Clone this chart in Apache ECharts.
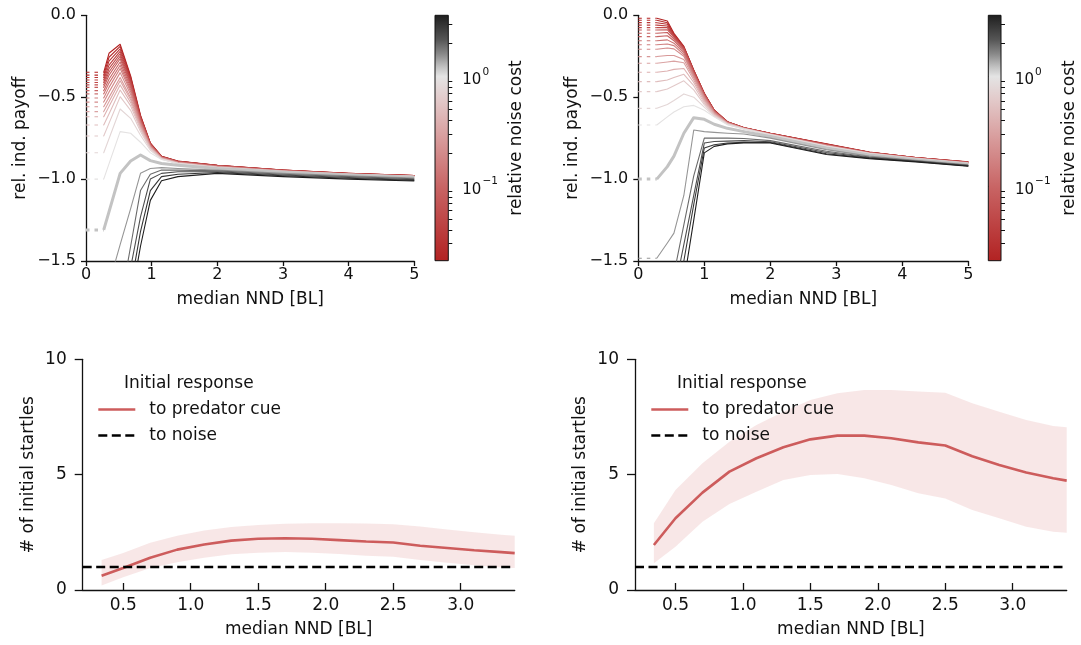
<!DOCTYPE html>
<html>
<head>
<meta charset="utf-8">
<script src="https://cdn.jsdelivr.net/npm/echarts@6/dist/echarts.min.js"></script>
<style>
  html, body { margin: 0; padding: 0; background: #fff; }
  #chart { width: 1081px; height: 645px; }
</style>
</head>
<body>
<div id="chart"></div>
<script>
// ---------------------------------------------------------------
// Relative noise cost of each curve in the two payoff panels
// ---------------------------------------------------------------
const noiseCost = [0.021, 0.026, 0.033, 0.041, 0.052, 0.065, 0.081, 0.10,
                   0.13, 0.16, 0.20, 0.25, 0.31, 0.39, 0.49, 0.61, 0.77,
                   0.96, 1.2, 1.5, 1.9, 2.3, 2.9, 3.6];
const highlightCost = 1.2;           // curve drawn as the thick grey reference
const costRange = [0.021, 3.6];      // colour-bar limits
const costMajorTicks = [0.1, 1];
const costMinorTicks = [0.03, 0.04, 0.05, 0.06, 0.07, 0.08, 0.09,
                        0.2, 0.3, 0.4, 0.5, 0.6, 0.7, 0.8, 0.9, 2, 3];

// median nearest-neighbour distance sampled in the left payoff panel
const nndPayoffLeft = [0.27, 0.35, 0.52, 0.68, 0.83, 0.98, 1.15, 1.4, 2.0, 3.0, 4.0, 5.0];
// relative individual payoff, one row per noise cost (left panel)
const payoffLeft = [
  [-0.348, -0.232, -0.177, -0.370, -0.610, -0.780, -0.860, -0.890, -0.915, -0.944, -0.965, -0.978],
  [-0.365, -0.256, -0.190, -0.378, -0.614, -0.781, -0.861, -0.891, -0.916, -0.945, -0.965, -0.978],
  [-0.380, -0.280, -0.205, -0.389, -0.619, -0.783, -0.862, -0.892, -0.917, -0.945, -0.966, -0.979],
  [-0.395, -0.304, -0.220, -0.398, -0.623, -0.785, -0.863, -0.892, -0.917, -0.946, -0.966, -0.979],
  [-0.410, -0.326, -0.235, -0.408, -0.628, -0.787, -0.864, -0.893, -0.918, -0.946, -0.967, -0.980],
  [-0.425, -0.346, -0.250, -0.418, -0.633, -0.788, -0.865, -0.894, -0.919, -0.947, -0.967, -0.980],
  [-0.440, -0.366, -0.265, -0.428, -0.637, -0.790, -0.866, -0.895, -0.920, -0.948, -0.968, -0.981],
  [-0.460, -0.390, -0.285, -0.441, -0.643, -0.792, -0.867, -0.896, -0.921, -0.949, -0.968, -0.981],
  [-0.480, -0.414, -0.305, -0.454, -0.650, -0.794, -0.868, -0.897, -0.922, -0.949, -0.969, -0.982],
  [-0.505, -0.440, -0.325, -0.467, -0.656, -0.797, -0.869, -0.898, -0.923, -0.950, -0.969, -0.982],
  [-0.530, -0.469, -0.350, -0.484, -0.664, -0.800, -0.870, -0.899, -0.924, -0.951, -0.970, -0.983],
  [-0.558, -0.501, -0.380, -0.503, -0.673, -0.803, -0.872, -0.900, -0.925, -0.951, -0.970, -0.983],
  [-0.588, -0.528, -0.400, -0.516, -0.679, -0.805, -0.873, -0.901, -0.926, -0.952, -0.970, -0.983],
  [-0.619, -0.557, -0.425, -0.533, -0.687, -0.808, -0.874, -0.902, -0.927, -0.953, -0.971, -0.984],
  [-0.670, -0.602, -0.456, -0.553, -0.696, -0.811, -0.876, -0.903, -0.928, -0.953, -0.971, -0.984],
  [-0.737, -0.660, -0.497, -0.580, -0.709, -0.816, -0.877, -0.904, -0.929, -0.954, -0.972, -0.985],
  [-0.839, -0.754, -0.572, -0.629, -0.732, -0.824, -0.878, -0.905, -0.930, -0.955, -0.972, -0.985],
  [-1.000, -0.907, -0.710, -0.720, -0.775, -0.840, -0.880, -0.905, -0.930, -0.955, -0.972, -0.985],
  [-1.310, -1.200, -0.965, -0.889, -0.853, -0.887, -0.905, -0.915, -0.935, -0.958, -0.975, -0.988],
  [-1.850, -1.640, -1.400, -1.180, -0.965, -0.935, -0.930, -0.935, -0.945, -0.965, -0.980, -0.993],
  [-2.300, -2.100, -1.770, -1.410, -1.070, -0.970, -0.945, -0.945, -0.950, -0.970, -0.985, -0.998],
  [-2.500, -2.300, -1.900, -1.540, -1.230, -1.000, -0.965, -0.955, -0.955, -0.975, -0.990, -1.003],
  [-2.600, -2.400, -2.000, -1.660, -1.320, -1.070, -0.985, -0.970, -0.960, -0.980, -0.995, -1.008],
  [-2.700, -2.500, -2.100, -1.750, -1.410, -1.130, -1.010, -0.985, -0.965, -0.985, -1.000, -1.012]
];

// median nearest-neighbour distance sampled in the right payoff panel
const nndPayoffRight = [0.28, 0.44, 0.54, 0.69, 0.84, 1.0, 1.15, 1.35, 1.6, 2.0, 2.85, 3.5, 4.2, 5.0];
// relative individual payoff, one row per noise cost (right panel)
const payoffRight = [
  [-0.018, -0.035, -0.110, -0.190, -0.334, -0.476, -0.578, -0.650, -0.685, -0.720, -0.785, -0.835, -0.868, -0.895],
  [-0.030, -0.045, -0.115, -0.192, -0.336, -0.477, -0.579, -0.650, -0.686, -0.721, -0.786, -0.836, -0.868, -0.896],
  [-0.045, -0.055, -0.120, -0.195, -0.338, -0.478, -0.580, -0.651, -0.686, -0.721, -0.787, -0.836, -0.869, -0.896],
  [-0.060, -0.065, -0.125, -0.198, -0.340, -0.480, -0.581, -0.651, -0.687, -0.722, -0.788, -0.837, -0.869, -0.897],
  [-0.075, -0.075, -0.130, -0.200, -0.343, -0.482, -0.582, -0.652, -0.687, -0.722, -0.789, -0.837, -0.870, -0.897],
  [-0.090, -0.088, -0.135, -0.205, -0.346, -0.484, -0.583, -0.652, -0.688, -0.723, -0.790, -0.838, -0.870, -0.898],
  [-0.110, -0.105, -0.145, -0.210, -0.350, -0.487, -0.585, -0.653, -0.688, -0.724, -0.791, -0.839, -0.871, -0.899],
  [-0.130, -0.125, -0.155, -0.220, -0.355, -0.490, -0.587, -0.654, -0.689, -0.724, -0.792, -0.839, -0.871, -0.899],
  [-0.155, -0.150, -0.170, -0.230, -0.360, -0.494, -0.589, -0.655, -0.689, -0.725, -0.793, -0.840, -0.872, -0.900],
  [-0.180, -0.175, -0.185, -0.240, -0.366, -0.498, -0.591, -0.656, -0.690, -0.726, -0.794, -0.841, -0.872, -0.901],
  [-0.207, -0.200, -0.205, -0.250, -0.373, -0.503, -0.594, -0.657, -0.691, -0.726, -0.795, -0.841, -0.873, -0.901],
  [-0.252, -0.245, -0.245, -0.270, -0.383, -0.510, -0.597, -0.658, -0.691, -0.727, -0.796, -0.842, -0.873, -0.902],
  [-0.293, -0.285, -0.280, -0.290, -0.395, -0.517, -0.600, -0.660, -0.692, -0.727, -0.797, -0.842, -0.874, -0.902],
  [-0.348, -0.340, -0.330, -0.325, -0.410, -0.525, -0.604, -0.661, -0.692, -0.728, -0.798, -0.843, -0.874, -0.903],
  [-0.405, -0.395, -0.380, -0.360, -0.430, -0.535, -0.608, -0.662, -0.693, -0.728, -0.798, -0.843, -0.875, -0.903],
  [-0.466, -0.450, -0.430, -0.400, -0.455, -0.545, -0.612, -0.664, -0.693, -0.729, -0.799, -0.844, -0.875, -0.904],
  [-0.568, -0.545, -0.520, -0.480, -0.500, -0.560, -0.616, -0.666, -0.694, -0.729, -0.800, -0.844, -0.876, -0.904],
  [-0.670, -0.620, -0.590, -0.558, -0.550, -0.580, -0.620, -0.668, -0.695, -0.730, -0.800, -0.845, -0.876, -0.905],
  [-1.000, -0.924, -0.860, -0.720, -0.625, -0.635, -0.665, -0.690, -0.710, -0.740, -0.810, -0.853, -0.882, -0.910],
  [-1.483, -1.390, -1.330, -1.100, -0.700, -0.710, -0.715, -0.720, -0.725, -0.750, -0.820, -0.860, -0.885, -0.913],
  [-2.200, -1.900, -1.580, -1.280, -0.980, -0.750, -0.750, -0.750, -0.752, -0.765, -0.830, -0.865, -0.888, -0.916],
  [-2.400, -2.100, -1.700, -1.400, -1.100, -0.780, -0.770, -0.768, -0.765, -0.772, -0.838, -0.868, -0.891, -0.918],
  [-2.600, -2.300, -1.900, -1.500, -1.155, -0.810, -0.790, -0.780, -0.775, -0.777, -0.845, -0.872, -0.893, -0.920],
  [-2.800, -2.500, -2.000, -1.630, -1.250, -0.840, -0.800, -0.785, -0.780, -0.780, -0.850, -0.875, -0.895, -0.922]
];

// initial startles vs. median NND (bottom panels)
const nndStartle = [0.34, 0.5, 0.7, 0.9, 1.1, 1.3, 1.5, 1.7, 1.9, 2.1, 2.3, 2.5, 2.7, 2.9, 3.1, 3.3, 3.4];
const startleLeftMean  = [0.62, 0.95, 1.40, 1.75, 1.97, 2.14, 2.22, 2.24, 2.22, 2.16, 2.10, 2.06, 1.92, 1.82, 1.72, 1.64, 1.60];
const startleLeftUpper = [1.30, 1.60, 2.05, 2.35, 2.58, 2.73, 2.82, 2.87, 2.89, 2.89, 2.88, 2.85, 2.75, 2.62, 2.50, 2.40, 2.35];
const startleLeftLower = [0.20, 0.55, 0.95, 1.20, 1.40, 1.55, 1.62, 1.65, 1.62, 1.56, 1.49, 1.44, 1.30, 1.18, 1.07, 0.98, 0.95];
const startleRightMean  = [1.95, 3.11, 4.22, 5.13, 5.71, 6.19, 6.53, 6.69, 6.69, 6.58, 6.40, 6.26, 5.80, 5.42, 5.09, 4.84, 4.74];
const startleRightUpper = [2.89, 4.33, 5.49, 6.43, 7.15, 7.73, 8.24, 8.53, 8.67, 8.67, 8.60, 8.55, 8.09, 7.73, 7.37, 7.11, 7.05];
const startleRightLower = [1.16, 1.88, 2.96, 3.73, 4.26, 4.77, 4.98, 5.03, 4.84, 4.55, 4.19, 3.97, 3.47, 3.11, 2.74, 2.53, 2.48];
const noiseStartles = 1;
const nndStartleRange = [0.2, 3.4];
const nndStartleTicks = [0.5, 1.0, 1.5, 2.0, 2.5, 3.0];

// ---------------------------------------------------------------
// Styling helpers
// ---------------------------------------------------------------
const FONT = 'DejaVu Sans';
const INK = '#111';
const CUE_RED = '#cd5c5c';

// red -> light grey -> near black, positioned along log10(cost)
const COST_CMAP = [
  [0.00, [178, 34, 34]],
  [0.30, [200, 100, 100]],
  [0.50, [216, 156, 156]],
  [0.65, [226, 200, 200]],
  [0.75, [228, 228, 228]],
  [0.79, [192, 192, 192]],
  [0.84, [138, 138, 138]],
  [0.90, [85, 85, 85]],
  [1.00, [30, 30, 30]]
];
const LOG_MIN = Math.log10(costRange[0]);
const LOG_MAX = Math.log10(costRange[1]);
const rgb = c => 'rgb(' + c.map(Math.round).join(',') + ')';

function costColor(cost) {
  let t = (Math.log10(cost) - LOG_MIN) / (LOG_MAX - LOG_MIN);
  t = Math.min(1, Math.max(0, t));
  for (let i = 1; i < COST_CMAP.length; i++) {
    const [t1, c1] = COST_CMAP[i];
    const [t0, c0] = COST_CMAP[i - 1];
    if (t <= t1) {
      const f = (t - t0) / (t1 - t0);
      return rgb(c0.map((v, k) => v + f * (c1[k] - v)));
    }
  }
  return rgb(COST_CMAP[COST_CMAP.length - 1][1]);
}

const zip = (xs, ys) => xs.map((x, i) => [x, ys[i]]);

// one dashed stub toward zero spacing plus the sampled curve, per cost
function payoffSeries(xs, rows, idx) {
  const out = [];
  rows.forEach((row, i) => {
    const cost = noiseCost[i];
    const color = costColor(cost);
    const width = cost === highlightCost ? 3 : 1.1;
    out.push({
      type: 'line', xAxisIndex: idx, yAxisIndex: idx, silent: true,
      symbol: 'none', clip: true, animation: false,
      data: [[0, row[0]], [xs[0], row[0]]],
      lineStyle: { color, width, type: [3.5, 5], cap: 'butt' }
    });
    out.push({
      type: 'line', xAxisIndex: idx, yAxisIndex: idx, silent: true,
      symbol: 'none', clip: true, animation: false,
      data: zip(xs, row),
      lineStyle: { color, width, join: 'round' }
    });
  });
  return out;
}

// shaded spread between lower and upper startle counts
function bandSeries(idx, lower, upper) {
  return {
    type: 'custom', xAxisIndex: idx, yAxisIndex: idx, silent: true, z: 1,
    data: [[nndStartle[0], lower[0]]],
    renderItem: (params, api) => {
      const top = nndStartle.map((x, i) => api.coord([x, upper[i]]));
      const bottom = nndStartle.map((x, i) => api.coord([x, lower[i]])).reverse();
      return { type: 'polygon', shape: { points: top.concat(bottom) },
               style: { fill: 'rgba(205,92,92,0.15)', stroke: null } };
    }
  };
}

function startleSeries(idx, mean, lower, upper) {
  return [
    bandSeries(idx, lower, upper),
    { name: 'to predator cue', type: 'line', xAxisIndex: idx, yAxisIndex: idx, z: 3,
      symbol: 'none', data: zip(nndStartle, mean),
      lineStyle: { color: CUE_RED, width: 2.6 }, itemStyle: { color: CUE_RED } },
    { name: 'to noise', type: 'line', xAxisIndex: idx, yAxisIndex: idx, z: 4,
      symbol: 'none',
      data: [[nndStartleRange[0], noiseStartles], [nndStartleRange[1], noiseStartles]],
      lineStyle: { color: '#000', width: 2.6, type: [9, 4.5] }, itemStyle: { color: '#000' } }
  ];
}

const axisLine = { show: true, onZero: false, lineStyle: { color: INK, width: 1.3 } };
const nameStyle = { color: INK, fontSize: 17, fontFamily: FONT };
const fmtMinus = v => v.toFixed(1).replace('-', '\u2212');

function payoffX(gi) {
  return { type: 'value', gridIndex: gi, min: 0, max: 5, interval: 1,
    axisLine, splitLine: { show: false },
    axisTick: { length: 5, lineStyle: { color: INK, width: 1.3 } },
    axisLabel: { color: INK, fontSize: 16, margin: 6, fontFamily: FONT },
    name: 'median NND [BL]', nameLocation: 'middle', nameGap: 30, nameTextStyle: nameStyle };
}
function payoffY(gi) {
  return { type: 'value', gridIndex: gi, min: -1.5, max: 0, interval: 0.5,
    axisLine, splitLine: { show: false },
    axisTick: { length: 5, lineStyle: { color: INK, width: 1.3 } },
    axisLabel: { color: INK, fontSize: 16, margin: 10, fontFamily: FONT, formatter: fmtMinus },
    name: 'rel. ind. payoff', nameLocation: 'middle', nameGap: 57, nameTextStyle: nameStyle };
}
function startleX(gi) {
  return { type: 'value', gridIndex: gi, min: nndStartleRange[0], max: nndStartleRange[1],
    axisLine, splitLine: { show: false },
    axisTick: { inside: true, length: 7, customValues: nndStartleTicks, lineStyle: { color: INK, width: 1.3 } },
    axisLabel: { color: INK, fontSize: 17, margin: 7, fontFamily: FONT,
      customValues: nndStartleTicks, formatter: v => v.toFixed(1) },
    name: 'median NND [BL]', nameLocation: 'middle', nameGap: 31, nameTextStyle: nameStyle };
}
function startleY(gi) {
  return { type: 'value', gridIndex: gi, min: 0, max: 10, interval: 5,
    axisLine, splitLine: { show: false },
    axisTick: { length: 8, lineStyle: { color: INK, width: 1.3 } },
    axisLabel: { color: INK, fontSize: 17, margin: 16, fontFamily: FONT },
    name: '# of initial startles', nameLocation: 'middle', nameGap: 46, nameTextStyle: nameStyle };
}
function costBarX(gi) {
  return { type: 'value', gridIndex: gi, min: 0, max: 1, show: false };
}
function costBarMajorY(gi) {
  const vals = costMajorTicks.map(Math.log10);
  return { type: 'value', gridIndex: gi, position: 'right', min: LOG_MIN, max: LOG_MAX,
    axisLine: { show: false }, splitLine: { show: false },
    axisTick: { show: true, length: 7, customValues: vals, lineStyle: { color: INK, width: 1.2 } },
    axisLabel: { show: true, margin: 14, customValues: vals,
      formatter: v => '{b|10}{s|' + String(Math.round(v)).replace('-', '\u2212') + '}',
      rich: {
        b: { fontSize: 15, color: INK, fontFamily: FONT, lineHeight: 22, verticalAlign: 'bottom' },
        s: { fontSize: 10.5, color: INK, fontFamily: FONT, lineHeight: 22, verticalAlign: 'top', padding: [1, 0, 0, 1] }
      } },
    name: 'relative noise cost', nameLocation: 'middle', nameRotate: 90, nameGap: 60,
    nameTextStyle: nameStyle };
}
function costBarMinorY(gi) {
  return { type: 'value', gridIndex: gi, position: 'right', min: LOG_MIN, max: LOG_MAX,
    axisLine: { show: false }, splitLine: { show: false }, axisLabel: { show: false },
    axisTick: { show: true, length: 4, customValues: costMinorTicks.map(Math.log10),
      lineStyle: { color: INK, width: 1 } } };
}

const barStops = COST_CMAP.slice().reverse().map(([t, c]) => ({ offset: 1 - t, color: rgb(c) }));
function costBarSeries(xi, yi) {
  return { type: 'custom', xAxisIndex: xi, yAxisIndex: yi, silent: true, clip: false,
    data: [[0, LOG_MIN]],
    renderItem: (params, api) => {
      const p0 = api.coord([0, LOG_MAX]);
      const p1 = api.coord([1, LOG_MIN]);
      return { type: 'rect',
        shape: { x: p0[0], y: p0[1], width: p1[0] - p0[0], height: p1[1] - p0[1] },
        style: { fill: new echarts.graphic.LinearGradient(0, 0, 0, 1, barStops),
                 stroke: INK, lineWidth: 1 } };
    } };
}

function legendFor(left) {
  return { data: ['to predator cue', 'to noise'], orient: 'vertical', left, top: 401,
    padding: 0, itemWidth: 37, itemHeight: 14, itemGap: 9, selectedMode: false,
    itemStyle: { color: 'rgba(0,0,0,0)', borderWidth: 0 },
    lineStyle: { width: 2.6 },
    textStyle: { fontSize: 17, color: INK, fontFamily: FONT, padding: [0, 0, 0, 9] } };
}
function legendTitle(left) {
  return { text: 'Initial response', left, top: 375, padding: 0,
    textStyle: { fontSize: 17, fontWeight: 'normal', color: INK, fontFamily: FONT } };
}

const option = {
  animation: false,
  backgroundColor: '#fff',
  textStyle: { fontFamily: FONT },
  title: [legendTitle(124), legendTitle(677)],
  legend: [legendFor(97), legendFor(650)],
  grid: [
    { left: 86, top: 15.3, width: 328.3, height: 245.7 },
    { left: 638.3, top: 15.3, width: 330, height: 245.7 },
    { left: 82.7, top: 359.3, width: 432, height: 230.7 },
    { left: 635, top: 359.3, width: 431.7, height: 230.7 },
    { left: 435, top: 15.3, width: 13.3, height: 245.4 },
    { left: 988.3, top: 15.3, width: 12.7, height: 245.4 }
  ],
  xAxis: [payoffX(0), payoffX(1), startleX(2), startleX(3), costBarX(4), costBarX(5)],
  yAxis: [payoffY(0), payoffY(1), startleY(2), startleY(3),
          costBarMajorY(4), costBarMinorY(4), costBarMajorY(5), costBarMinorY(5)],
  series: [
    ...payoffSeries(nndPayoffLeft, payoffLeft, 0),
    ...payoffSeries(nndPayoffRight, payoffRight, 1),
    ...startleSeries(2, startleLeftMean, startleLeftLower, startleLeftUpper),
    ...startleSeries(3, startleRightMean, startleRightLower, startleRightUpper),
    costBarSeries(4, 4),
    costBarSeries(5, 6)
  ]
};

const chart = echarts.init(document.getElementById('chart'), null, { renderer: 'canvas' });
chart.setOption(option);
</script>
</body>
</html>
